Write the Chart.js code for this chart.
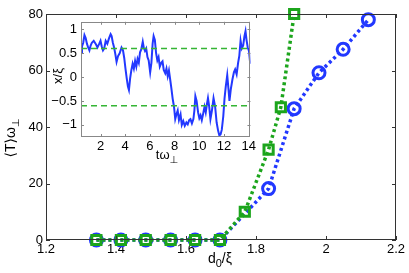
<!DOCTYPE html>
<html>
<head>
<meta charset="utf-8">
<script src="https://cdn.jsdelivr.net/npm/chart.js@4.4.0/dist/chart.umd.min.js"></script>
<style>
  html, body { margin: 0; padding: 0; background: #fff; }
  #wrap { position: relative; width: 409px; height: 273px; }
  #main { position: absolute; left: 0; top: 0; }
  #inset { position: absolute; left: 40px; top: 10px; }
</style>
</head>
<body>
<div id="wrap">
  <canvas id="main" width="409" height="273"></canvas>
  <canvas id="inset" width="218" height="160"></canvas>
</div>
<script>
/*
DATA
*/
// main plot: separation d0/xi vs mean time <T> w_perp
const greenD = [1.344, 1.414, 1.485, 1.556, 1.626, 1.697, 1.768, 1.836, 1.871, 1.909];
const greenT = [0, 0, 0, 0, 0, 0, 10, 32, 47, 80];
const blueD = [1.344, 1.414, 1.485, 1.556, 1.626, 1.697, 1.836, 1.909, 1.980, 2.049, 2.121];
const blueT = [0, 0, 0, 0, 0, 0, 18.2, 46.5, 59.2, 67.5, 78];

const mainXTicks = [1.2, 1.4, 1.6, 1.8, 2.0, 2.2];
const mainXLabels = ['1.2', '1.4', '1.6', '1.8', '2', '2.2'];
const mainYTicks = [0, 20, 40, 60, 80];
const mainYLabels = ['0', '20', '40', '60', '80'];

// inset: position x/xi vs time t w_perp
const insetTime = [0.42, 0.5, 0.6, 0.7, 0.8, 0.9, 1.0, 1.1, 1.2, 1.3, 1.45, 1.6, 1.75, 1.9, 2.0, 2.1, 2.2, 2.3, 2.42, 2.55,
  2.7, 2.82, 2.9, 3.0, 3.1, 3.2, 3.3, 3.42, 3.55, 3.7, 3.82, 3.92, 4.02, 4.12, 4.22, 4.3, 4.4, 4.5, 4.6, 4.7,
  4.8, 4.9, 5.0, 5.1, 5.2, 5.3, 5.42, 5.5, 5.6, 5.7, 5.8, 5.9, 6.02, 6.12, 6.22, 6.3, 6.4, 6.5, 6.6, 6.7,
  6.8, 6.92, 7.02, 7.12, 7.24, 7.34, 7.44, 7.54, 7.64, 7.74, 7.84, 7.95, 8.05, 8.15, 8.25, 8.35, 8.48, 8.58, 8.7, 8.82,
  8.95, 9.06, 9.18, 9.28, 9.4, 9.52, 9.6, 9.68, 9.78, 9.9, 10.0, 10.1, 10.2, 10.3, 10.42, 10.52, 10.62, 10.7, 10.8, 10.9,
  11.02, 11.15, 11.28, 11.4, 11.52, 11.62, 11.72, 11.82, 11.94, 12.04, 12.14, 12.26, 12.36, 12.44, 12.55, 12.68, 12.8, 12.9, 13.02, 13.14,
  13.24, 13.34, 13.44, 13.55, 13.65, 13.74, 13.82, 13.92, 14.02, 14.12];
const insetPos = [0.52, 0.64, 0.72, 0.88, 0.82, 0.7, 0.62, 0.56, 0.66, 0.72, 0.76, 0.7, 0.62, 0.7, 0.76, 0.64, 0.56, 0.6, 0.76, 0.7,
  0.82, 0.9, 0.86, 0.72, 0.62, 0.48, 0.32, 0.44, 0.5, 0.62, 0.56, 0.4, 0.18, -0.02, -0.2, -0.27, -0.02, 0.15, 0.28, 0.18,
  0.34, 0.22, 0.38, 0.3, 0.52, 0.58, 0.74, 0.62, 0.55, 0.6, 0.42, 0.35, 0.1, 0.3, 0.7, 0.86, 0.78, 0.5, 0.35, 0.42,
  0.22, 0.3, 0.33, 0.15, 0.08, 0.18, 0.02, 0.14, -0.05, -0.24, -0.45, -0.62, -0.88, -0.78, -0.7, -0.9, -0.78, -1.0, -0.92, -1.02,
  -0.95, -0.99, -0.9, -0.88, -0.97, -0.88, -0.7, -0.4, -0.5, -0.74, -0.86, -0.8, -0.9, -0.78, -0.62, -0.74, -0.56, -0.44, -0.62, -0.88,
  -0.7, -0.44, -0.62, -0.95, -1.12, -1.22, -1.2, -1.1, -0.82, -0.45, -0.2, 0.04, -0.25, -0.5, -0.25, -0.05, 0.1, 0.16, 0.06, 0.3,
  0.45, 0.76, 0.6, 0.66, 0.85, 0.96, 0.78, 0.62, 0.55, 0.28];
const insetLevels = [0.6, -0.6];

const insetXTicks = [2, 4, 6, 8, 10, 12, 14];
const insetXLabels = ['2', '4', '6', '8', '10', '12', '14'];
const insetYTicks = [-1, -0.5, 0, 0.5, 1];
const insetYLabels = ['\u22121', '\u22120.5', '0', '0.5', '1'];

const insetXMin = 0.42;
const insetXMax = 14.14;

/*
STYLE
*/
const FONT = '"Liberation Sans", Arial, "DejaVu Sans", sans-serif';
const GREEN = '#1ca51c';
const BLUE = '#2238ff';
Chart.defaults.font.family = FONT;
Chart.defaults.color = '#000';

function toPoints(xs, ys) {
  return xs.map((x, i) => ({x: x, y: ys[i]}));
}

function fixedTicks(values) {
  return scale => { scale.ticks = values.map(v => ({value: v})); };
}

// draw text pieces (with subscripts) centered on x
function drawParts(ctx, parts, x, y) {
  let total = 0;
  for (let p of parts) {
    ctx.font = p.size + 'px ' + FONT;
    total += ctx.measureText(p.text).width;
  }
  let cx = x - total / 2;
  ctx.textAlign = 'left';
  ctx.textBaseline = 'alphabetic';
  for (let p of parts) {
    ctx.font = p.size + 'px ' + FONT;
    ctx.fillText(p.text, cx, y + (p.dy || 0));
    cx += ctx.measureText(p.text).width;
  }
}

// box round the plot area with short ticks pointing inward on every side
const boxTicks = {
  id: 'boxTicks',
  beforeDraw(chart, args, opts) {
    if (!opts.fill) return;
    const a = chart.chartArea;
    chart.ctx.save();
    chart.ctx.fillStyle = opts.fill;
    chart.ctx.fillRect(a.left, a.top, a.right - a.left, a.bottom - a.top);
    chart.ctx.restore();
  },
  afterDraw(chart, args, opts) {
    const {ctx, chartArea: a, scales} = chart;
    const len = opts.len;
    ctx.save();
    ctx.strokeStyle = opts.color;
    ctx.lineWidth = 1;
    ctx.beginPath();
    for (let t of scales.x.ticks) {
      const px = Math.round(scales.x.getPixelForValue(t.value)) + 0.5;
      ctx.moveTo(px, a.bottom);
      ctx.lineTo(px, a.bottom - len);
      ctx.moveTo(px, a.top);
      ctx.lineTo(px, a.top + len);
    }
    for (let t of scales.y.ticks) {
      const py = Math.round(scales.y.getPixelForValue(t.value)) + 0.5;
      ctx.moveTo(a.left, py);
      ctx.lineTo(a.left + len, py);
      ctx.moveTo(a.right, py);
      ctx.lineTo(a.right - len, py);
    }
    ctx.stroke();
    ctx.strokeRect(Math.round(a.left) + 0.5, Math.round(a.top) + 0.5,
      Math.round(a.right - a.left) - 1, Math.round(a.bottom - a.top) - 1);
    ctx.restore();
  }
};

/*
MAIN CHART
*/
const mainTitles = {
  id: 'mainTitles',
  afterDraw(chart) {
    const ctx = chart.ctx;
    ctx.save();
    ctx.fillStyle = '#000';
    drawParts(ctx, [
      {text: 'd', size: 14},
      {text: '0', size: 11, dy: 4},
      {text: '/\u03BE', size: 14}
    ], 220, 263);
    ctx.translate(15, 138);
    ctx.rotate(-Math.PI / 2);
    drawParts(ctx, [
      {text: '\u27E8T\u27E9\u03C9', size: 14},
      {text: '\u22A5', size: 10, dy: 4}
    ], 0, 0);
    ctx.restore();
  }
};

let mainChart = new Chart(document.getElementById('main'), {
  type: 'line',
  data: {
    datasets: [{
      data: toPoints(greenD, greenT),
      borderColor: GREEN,
      borderWidth: 3.5,
      borderDash: [3, 3],
      pointStyle: 'rect',
      pointRadius: 6.5,
      pointBorderWidth: 3,
      pointBorderColor: GREEN,
      pointBackgroundColor: 'transparent',
      clip: false
    }, {
      data: toPoints(blueD, blueT),
      borderColor: BLUE,
      borderWidth: 3.5,
      borderDash: [3, 3],
      pointStyle: 'circle',
      pointRadius: 6,
      pointBorderWidth: 3,
      pointBorderColor: BLUE,
      pointBackgroundColor: 'transparent',
      clip: false
    }]
  },
  options: {
    responsive: false,
    animation: false,
    devicePixelRatio: 1,
    layout: { padding: {left: 0, right: 13, top: 14, bottom: 0} },
    plugins: {
      legend: { display: false },
      tooltip: { enabled: false },
      boxTicks: { len: 4, color: '#333' }
    },
    scales: {
      x: {
        type: 'linear',
        min: 1.2,
        max: 2.2,
        afterBuildTicks: fixedTicks(mainXTicks),
        afterFit: s => { s.height = 33; },
        grid: { display: false, drawTicks: false },
        border: { display: false },
        ticks: {
          padding: 2,
          maxRotation: 0,
          font: { size: 13 },
          callback: (v, i) => mainXLabels[i]
        }
      },
      y: {
        type: 'linear',
        min: 0,
        max: 80,
        afterBuildTicks: fixedTicks(mainYTicks),
        afterFit: s => { s.width = 46; },
        grid: { display: false, drawTicks: false },
        border: { display: false },
        ticks: {
          padding: 3,
          font: { size: 13 },
          callback: (v, i) => mainYLabels[i]
        }
      }
    }
  },
  plugins: [boxTicks, mainTitles]
});

/*
INSET CHART
*/
const insetTitles = {
  id: 'insetTitles',
  afterDraw(chart) {
    const ctx = chart.ctx;
    ctx.save();
    ctx.fillStyle = '#000';
    drawParts(ctx, [
      {text: 't\u03C9', size: 13},
      {text: '\u22A5', size: 10, dy: 4}
    ], 127, 149);
    ctx.translate(22, 66);
    ctx.rotate(-Math.PI / 2);
    drawParts(ctx, [{text: 'x/\u03BE', size: 13}], 0, 0);
    ctx.restore();
  }
};

let insetDatasets = insetLevels.map(level => ({
  data: toPoints([insetXMin, insetXMax], [level, level]),
  borderColor: '#35b535',
  borderWidth: 1.6,
  borderDash: [6, 4],
  pointRadius: 0
}));
insetDatasets.push({
  data: toPoints(insetTime, insetPos),
  borderColor: BLUE,
  borderWidth: 2,
  pointRadius: 0,
  tension: 0
});

let insetChart = new Chart(document.getElementById('inset'), {
  type: 'line',
  data: { datasets: insetDatasets },
  options: {
    responsive: false,
    animation: false,
    devicePixelRatio: 1,
    layout: { padding: {left: 0, right: 4, top: 9, bottom: 0} },
    plugins: {
      legend: { display: false },
      tooltip: { enabled: false },
      boxTicks: { len: 3, color: '#888', fill: '#fff' }
    },
    scales: {
      x: {
        type: 'linear',
        min: insetXMin,
        max: insetXMax,
        afterBuildTicks: fixedTicks(insetXTicks),
        afterFit: s => { s.height = 33; },
        grid: { display: false, drawTicks: false },
        border: { display: false },
        ticks: {
          padding: 2,
          maxRotation: 0,
          font: { size: 13 },
          callback: (v, i) => insetXLabels[i]
        }
      },
      y: {
        type: 'linear',
        min: -1.254,
        max: 1.158,
        afterBuildTicks: fixedTicks(insetYTicks),
        afterFit: s => { s.width = 41; },
        grid: { display: false, drawTicks: false },
        border: { display: false },
        ticks: {
          padding: 4,
          font: { size: 13 },
          callback: (v, i) => insetYLabels[i]
        }
      }
    }
  },
  plugins: [boxTicks, insetTitles]
});
</script>
</body>
</html>
